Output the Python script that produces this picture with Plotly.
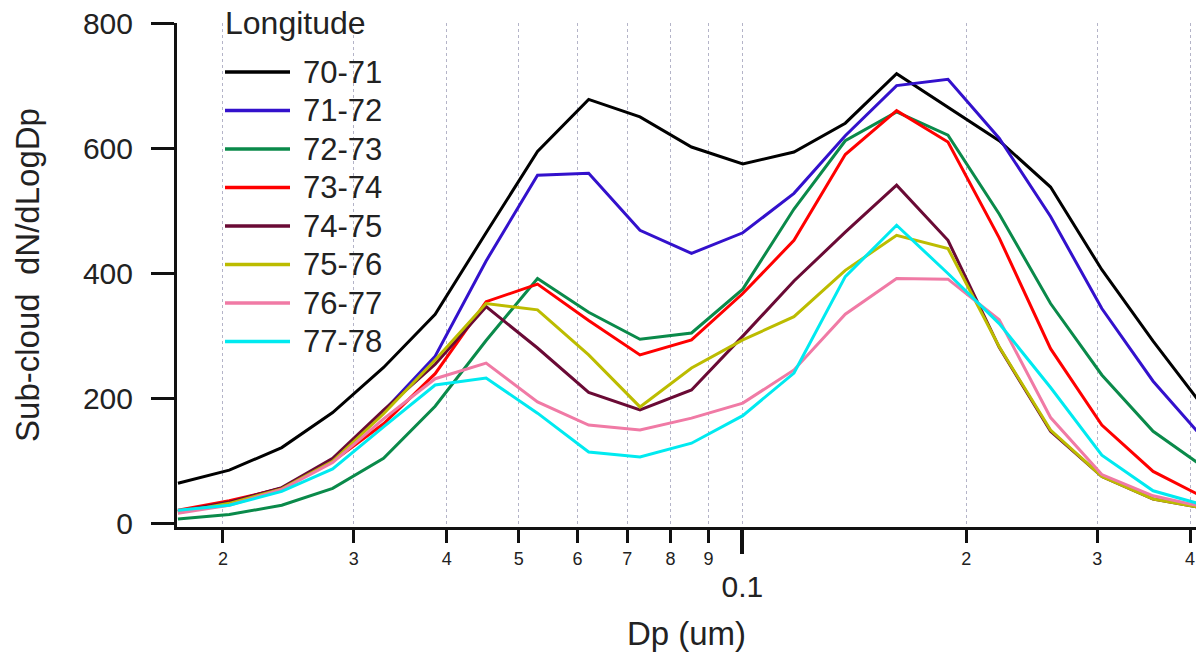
import math
import plotly.graph_objects as go

# ---------------- data ----------------
dp_um = [0.0174, 0.0204, 0.0240, 0.0281, 0.0329, 0.0386, 0.0452, 0.0530, 0.0621,
         0.0728, 0.0854, 0.1001, 0.1173, 0.1375, 0.1612, 0.1890, 0.2215, 0.2597,
         0.3044, 0.3568, 0.4182]

series_names = ["70-71", "71-72", "72-73", "73-74", "74-75", "75-76", "76-77", "77-78"]

lon_70_71 = [65, 86, 122, 178, 250, 335, 465, 595, 678, 650, 602, 575, 594, 640, 719, 666, 612, 538, 406, 292, 185]
lon_71_72 = [20, 35, 57, 100, 180, 268, 420, 557, 560, 469, 432, 465, 528, 620, 700, 710, 616, 491, 344, 228, 135]
lon_72_73 = [8, 15, 30, 57, 105, 188, 293, 392, 338, 295, 305, 375, 503, 612, 658, 621, 495, 352, 238, 148, 90]
lon_73_74 = [22, 37, 57, 100, 160, 240, 355, 383, 325, 270, 294, 368, 453, 590, 660, 610, 457, 280, 158, 84, 42]
lon_74_75 = [20, 35, 58, 105, 182, 255, 347, 281, 210, 182, 214, 300, 388, 466, 541, 453, 282, 148, 76, 40, 25]
lon_75_76 = [18, 33, 56, 100, 176, 262, 352, 342, 270, 187, 249, 294, 331, 405, 461, 440, 283, 150, 76, 40, 25]
lon_76_77 = [17, 30, 55, 98, 168, 232, 257, 195, 158, 150, 169, 193, 246, 335, 392, 391, 326, 170, 79, 45, 27]
lon_77_78 = [22, 30, 52, 88, 155, 222, 233, 177, 115, 107, 129, 173, 241, 395, 477, 400, 320, 218, 110, 53, 30]

series_values = [lon_70_71, lon_71_72, lon_72_73, lon_73_74, lon_74_75, lon_75_76, lon_76_77, lon_77_78]

x_tick_vals = [0.02, 0.03, 0.04, 0.05, 0.06, 0.07, 0.08, 0.09, 0.1, 0.2, 0.3, 0.4]
x_tick_text = ["2", "3", "4", "5", "6", "7", "8", "9", "", "2", "3", "4"]
y_tick_vals = [0, 200, 400, 600, 800]

# ---------------- style ----------------
colors = ["#000000", "#3311cc", "#0a8a4a", "#ff0000", "#6a0a35", "#bcbc00", "#f07aa5", "#00eaf0"]
FONT = "Liberation Sans, Arial, Helvetica, sans-serif"
W, H = 1196, 652
ML, MR, MT, MB = 177, 0, 23, 125
PW, PH = W - ML - MR, H - MT - MB
X_RANGE = [math.log10(0.01735), math.log10(0.4075)]


def px_x(px):
    return (px - ML) / PW


def px_y(py):
    return (H - MB - py) / PH


fig = go.Figure()
for name, vals, col in zip(series_names, series_values, colors):
    fig.add_trace(go.Scatter(x=dp_um, y=vals, mode="lines", name=name,
                             line=dict(color=col, width=3), showlegend=False))

# invisible helper trace for the overlay axis carrying the long 0.1 tick
fig.add_trace(go.Scatter(x=dp_um, y=lon_70_71, xaxis="x2", mode="lines",
                         line=dict(width=0), opacity=0, showlegend=False, hoverinfo="skip"))

# ---------------- manual legend ----------------
shapes = [dict(type="rect", xref="paper", yref="paper", layer="below",
               x0=px_x(200), x1=px_x(400), y0=px_y(358), y1=px_y(0),
               fillcolor="white", line=dict(width=0))]
annotations = [dict(text="Longitude", xref="paper", yref="paper", x=px_x(223), y=px_y(23),
                    xanchor="left", yanchor="middle", showarrow=False,
                    font=dict(family=FONT, size=32, color="#222"))]
leg_y0, leg_dy = 72, 38.5
for i, (name, col) in enumerate(zip(series_names, colors)):
    yy = px_y(leg_y0 + i * leg_dy)
    shapes.append(dict(type="line", xref="paper", yref="paper", x0=px_x(225), x1=px_x(290),
                       y0=yy, y1=yy, line=dict(color=col, width=3.5)))
    annotations.append(dict(text=name, xref="paper", yref="paper", x=px_x(301), y=yy,
                            xanchor="left", yanchor="middle", showarrow=False,
                            font=dict(family=FONT, size=31, color="#222")))

fig.update_layout(
    width=W, height=H,
    margin=dict(l=ML, r=MR, t=MT, b=MB, pad=0),
    paper_bgcolor="white", plot_bgcolor="white",
    font=dict(family=FONT, color="#222"),
    shapes=shapes, annotations=annotations,
    showlegend=False,
    xaxis=dict(type="log", range=X_RANGE, tickmode="array", tickvals=x_tick_vals, ticktext=x_tick_text,
               ticks="outside", ticklen=13, tickwidth=3, tickcolor="#111",
               tickfont=dict(family=FONT, size=18, color="#222"), ticklabeloverflow="allow",
               showline=True, linewidth=3, linecolor="#111",
               showgrid=True, gridcolor="#b4b4c8", griddash="dot", gridwidth=1,
               zeroline=False, automargin=False,
               title=dict(text="Dp (um)", font=dict(family=FONT, size=33, color="#222"), standoff=56)),
    xaxis2=dict(type="log", range=X_RANGE, overlaying="x", anchor="y", side="bottom",
                tickmode="array", tickvals=[0.1], ticktext=["0.1"],
                ticks="outside", ticklen=26, tickwidth=3.5, tickcolor="#111",
                tickfont=dict(family=FONT, size=30, color="#222"), ticklabelstandoff=7,
                showline=False, showgrid=False, zeroline=False, automargin=False),
    yaxis=dict(range=[-4.8, 800], tickmode="array", tickvals=y_tick_vals,
               ticks="outside", ticklen=23, tickwidth=3, tickcolor="#111",
               tickfont=dict(family=FONT, size=30, color="#222"), ticklabelstandoff=12,
               showline=True, linewidth=3, linecolor="#111",
               showgrid=False, zeroline=False, automargin=False,
               title=dict(text="Sub-cloud\u00a0 dN/dLogDp", font=dict(family=FONT, size=33, color="#222"),
                          standoff=34)),
)

fig.write_html("out.html")
